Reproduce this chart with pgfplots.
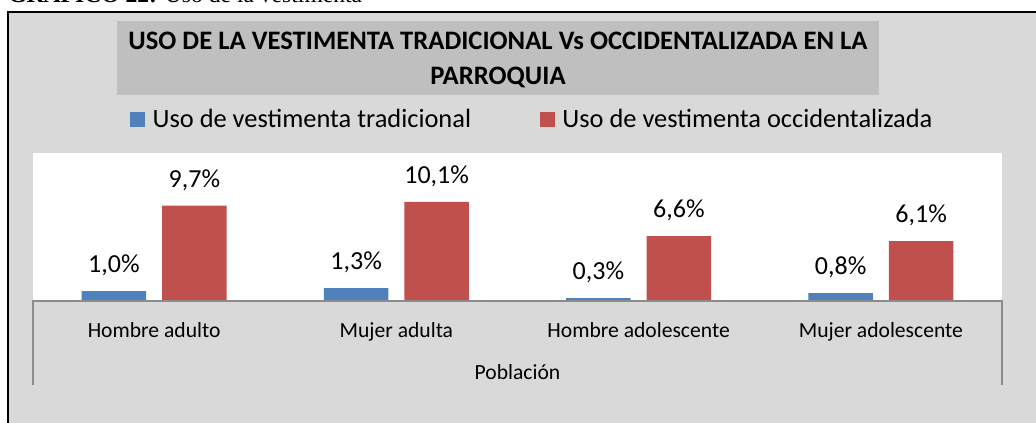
\documentclass[border=0pt]{standalone}
\usepackage{fontspec}
\setmainfont{Carlito}
\newfontfamily\timesfont{Liberation Serif}
\usepackage{pgfplots}
\pgfplotsset{compat=1.18}
\pgfdeclarelayer{background}
\pgfsetlayers{background,main}
\definecolor{bgouter}{HTML}{D9D9D9}
\definecolor{bgtitle}{HTML}{BFBFBF}
\definecolor{axisgray}{HTML}{8C8C8C}
\definecolor{barblue}{HTML}{4F81BD}
\definecolor{barred}{HTML}{C0504D}
\begin{document}
\begin{tikzpicture}[x=0.75pt,y=0.75pt]
\begin{axis}[
  name=ax,
  at={(24.75pt,91.5pt)}, anchor=south west,
  scale only axis, width=726.75pt, height=111pt,
  xmin=-0.5, xmax=3.5, ymin=0, ymax=15.07,
  ybar=12pt, bar width=48.4pt,
  axis background/.style={fill=white},
  axis line style={draw=none},
  major tick length=0pt,
  ytick=\empty,
  xtick={0,1,2,3},
  xticklabels={Hombre adulto,Mujer adulta,Hombre adolescente,Mujer adolescente},
  xticklabel style={anchor=base,yshift=-27.5pt,font=\fontsize{16.2}{19}\selectfont},
  xlabel={Población},
  xlabel style={at={(axis description cs:0.5,0)},anchor=base,yshift=-59pt,font=\fontsize{16.2}{19}\selectfont},
  nodes near coords={\pgfmathprintnumber[assume math mode=true,fixed,fixed zerofill,precision=1,use comma]{\pgfplotspointmeta}\%},
  nodes near coords style={anchor=base,yshift=13.8pt,font=\fontsize{19.5}{22}\selectfont,text=black},
  legend columns=2,
  legend style={draw=none,fill=none,at={(axis description cs:0.5155,1.226)},anchor=center,
    font=\fontsize{19.8}{24}\selectfont,
    /tikz/every even column/.append style={column sep=49.5pt},
    /tikz/every odd column/.append style={column sep=3.75pt}},
  legend image code/.code={\fill[#1] (0pt,-5.6pt) rectangle (11.25pt,5.6pt);},
]
\addplot[fill=barblue,draw=none] coordinates {(0,1.0) (1,1.3) (2,0.3) (3,0.8)};
\addplot[fill=barred,draw=none] coordinates {(0,9.7) (1,10.1) (2,6.6) (3,6.1)};
\legend{Uso de vestimenta tradicional,Uso de vestimenta occidentalizada}
\end{axis}
\draw[axisgray,line width=1.1pt] (ax.south west) ++(0,-84) -- (ax.south west) -- (ax.south east) -- ++(0,-84);
\useasboundingbox (0,0) rectangle (1036,423);
\begin{pgfonlayer}{background}
\begin{scope}
\clip (0,0) rectangle (1036,423);
% caption (cut at top)
\node[anchor=base west,inner sep=0pt] at (8,420) {\timesfont\fontsize{17.7}{21}\selectfont\textbf{GRÁFICO 22:} Uso de la vestimenta};
% outer chart area
\fill[bgouter] (8,411) rectangle (1050,-20);
\draw[black,line width=1.4pt] (8,-20) -- (8,411) -- (1050,411);
% title box
\fill[bgtitle] (117,328) rectangle (879,402);
\node[align=center,inner sep=0pt,font=\bfseries\fontsize{20}{26}\selectfont] at (498,363)
  {USO DE LA VESTIMENTA TRADICIONAL Vs OCCIDENTALIZADA EN LA\\PARROQUIA};
\end{scope}
\end{pgfonlayer}
\end{tikzpicture}
\end{document}
